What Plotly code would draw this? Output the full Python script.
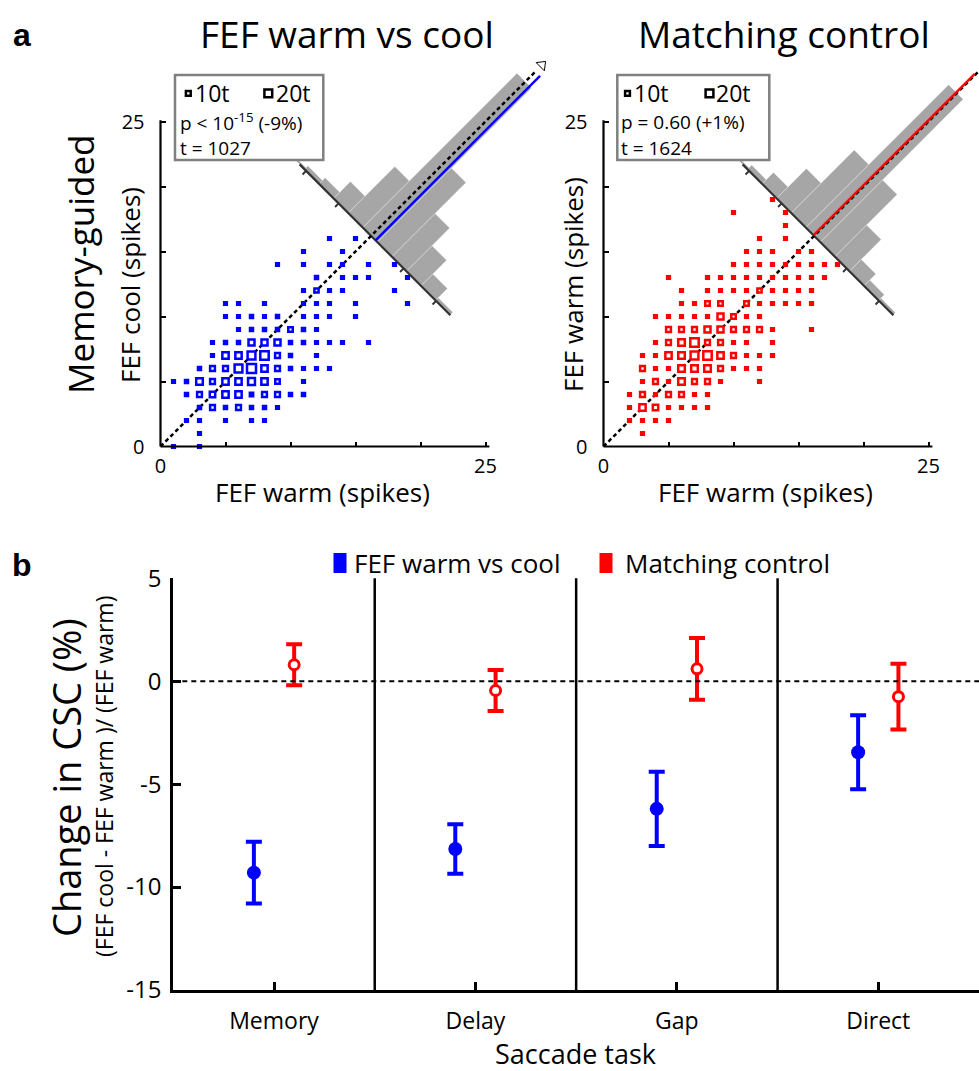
import math
import plotly.graph_objects as go

W, H = 979, 1071
FONT = "Open Sans"
BLUE = "#0000ff"
RED = "#ff0000"
HIST_GREY = "#a6a6a6"

# ---------------- panel a, left: FEF warm (x) vs FEF cool (y) spike counts ----------------
cool_warm = [
    13, 15,
    11, 14,
    9, 11, 13, 14, 16, 18,
    12, 14, 15, 16, 19,
    11, 12, 13, 14, 18,
    5, 6, 8, 11, 12, 13, 15, 19,
    5, 6, 7, 8, 9, 11, 12, 13, 15,
    6, 7, 8, 9, 10, 11, 12,
    4, 5, 6, 7, 8, 9, 10, 11, 12, 13, 14, 16,
    4, 5, 6, 7, 8, 9, 10, 12,
    3, 4, 5, 6, 7, 8, 9, 10, 11, 12, 13,
    1, 2, 3, 4, 5, 6, 7, 8, 9, 11,
    2, 3, 4, 5, 6, 7, 8, 9, 10, 11,
    3, 4, 5, 6, 7, 8, 9,
    2, 3, 5, 7, 8,
    3,
    1, 3,
]
cool_cool = [
    16, 16,
    15, 15,
    14, 14, 14, 14, 14, 14,
    13, 13, 13, 13, 13,
    12, 12, 12, 12, 12,
    11, 11, 11, 11, 11, 11, 11, 11,
    10, 10, 10, 10, 10, 10, 10, 10, 10,
    9, 9, 9, 9, 9, 9, 9,
    8, 8, 8, 8, 8, 8, 8, 8, 8, 8, 8, 8,
    7, 7, 7, 7, 7, 7, 7, 7,
    6, 6, 6, 6, 6, 6, 6, 6, 6, 6, 6,
    5, 5, 5, 5, 5, 5, 5, 5, 5, 5,
    4, 4, 4, 4, 4, 4, 4, 4, 4, 4,
    3, 3, 3, 3, 3, 3, 3,
    2, 2, 2, 2, 2,
    1,
    0, 0,
]
cool_trials = [
    3, 3,
    3, 3,
    3, 3, 3, 3, 3, 3,
    4, 3, 3, 3, 3,
    3, 8, 3, 3, 3,
    3, 3, 3, 3, 3, 3, 3, 3,
    3, 3, 4, 3, 4, 3, 3, 3, 3,
    3, 4, 4, 4, 9, 4, 3,
    3, 4, 4, 14, 14, 14, 4, 4, 3, 3, 3, 3,
    3, 15, 15, 20, 22, 10, 4, 3,
    4, 10, 10, 20, 24, 15, 10, 4, 3, 3, 3,
    3, 4, 16, 10, 15, 15, 17, 15, 9, 3,
    4, 10, 12, 15, 15, 5, 10, 10, 4, 4,
    4, 10, 4, 10, 4, 4, 3,
    3, 3, 3, 3, 3,
    3,
    3, 3,
]

# ---------------- panel a, right: FEF warm vs FEF warm (matching control) ----------------
ctrl_warm_a = [
    13,
    10, 14,
    14,
    12, 14,
    11, 12, 13, 15, 16,
    10, 11, 12, 13, 14, 15, 16, 17, 18,
    5, 8, 9, 10, 11, 12, 13, 14, 15, 16, 17,
    6, 8, 9, 10, 11, 12, 13, 14, 15, 16,
    6, 7, 8, 9, 11, 12, 13, 14, 15, 16,
    4, 5, 6, 7, 8, 9, 10, 11, 12,
    5, 6, 7, 8, 9, 10, 11, 12, 13, 16,
    4, 5, 6, 7, 8, 9, 10, 11, 13,
    3, 4, 5, 6, 7, 8, 9, 10, 11, 12, 13,
    3, 4, 5, 6, 7, 8, 9, 10, 11, 12,
    3, 4, 5, 6, 7, 8, 9, 12,
    2, 3, 4, 5, 6, 7, 8,
    2, 3, 4, 5, 6, 7, 8,
    2, 3, 4, 5,
    3,
]
ctrl_warm_b = [
    19,
    18, 18,
    17,
    16, 16,
    15, 15, 15, 15, 15,
    14, 14, 14, 14, 14, 14, 14, 14, 14,
    13, 13, 13, 13, 13, 13, 13, 13, 13, 13, 13,
    12, 12, 12, 12, 12, 12, 12, 12, 12, 12,
    11, 11, 11, 11, 11, 11, 11, 11, 11, 11,
    10, 10, 10, 10, 10, 10, 10, 10, 10,
    9, 9, 9, 9, 9, 9, 9, 9, 9, 9,
    8, 8, 8, 8, 8, 8, 8, 8, 8,
    7, 7, 7, 7, 7, 7, 7, 7, 7, 7, 7,
    6, 6, 6, 6, 6, 6, 6, 6, 6, 6,
    5, 5, 5, 5, 5, 5, 5, 5,
    4, 4, 4, 4, 4, 4, 4,
    3, 3, 3, 3, 3, 3, 3,
    2, 2, 2, 2,
    1,
]
ctrl_trials = [
    3,
    3, 3,
    3,
    3, 3,
    3, 3, 3, 3, 3,
    3, 3, 3, 3, 3, 3, 3, 3, 3,
    3, 3, 3, 3, 3, 3, 3, 3, 3, 3, 3,
    3, 3, 3, 3, 3, 8, 3, 3, 3, 3,
    3, 3, 9, 9, 9, 3, 3, 3, 3, 3,
    3, 3, 3, 3, 3, 14, 9, 3, 3,
    10, 10, 10, 14, 14, 10, 10, 10, 3, 3,
    3, 10, 16, 22, 10, 10, 3, 3, 3,
    3, 3, 15, 16, 20, 22, 15, 10, 3, 3, 3,
    10, 3, 3, 16, 16, 16, 10, 3, 3, 3,
    3, 10, 3, 16, 10, 10, 3, 3,
    3, 10, 3, 10, 10, 3, 3,
    3, 15, 12, 3, 3, 3, 3,
    3, 3, 3, 3,
    3,
]

# difference histograms along the anti-diagonal (second minus first count, spikes)
hist_edges = [12.49, 10.25, 8.01, 5.77, 3.52, 1.28, -0.96, -3.20, -5.44, -7.68, -9.92, -12.16]
cool_hist_pct = [0.4, 0.9, 1.6, 4.4, 12.2, 40.4, 19.4, 11.3, 6.7, 3.1, 0.7]
ctrl_hist_pct = [0.4, 1.1, 3.0, 7.8, 16.5, 37.4, 16.3, 8.3, 3.1, 1.5, 0.6]
hist_ticks = [-10, -5, 5, 10]
cool_mean_diff = -0.68
ctrl_mean_diff = 0.1

# ---------------- panel b: change in CSC per saccade task ----------------
tasks = ["Memory", "Delay", "Gap", "Direct"]
cool_change = [-9.3, -8.15, -6.2, -3.45]
cool_sem = [1.5, 1.2, 1.8, 1.8]
ctrl_change = [0.8, -0.45, 0.6, -0.75]
ctrl_sem = [1.0, 1.0, 1.5, 1.6]

# ---------------- geometry ----------------
PX = 13.0                       # pixels per spike in panel a
A_YMAX = 29.9
L_X0, L_Y0 = 160.5, 446.5       # pixel of the origin, left scatter
R_X0, R_Y0 = 603.5, 446.5       # pixel of the origin, right scatter
L_XMAX = 29.9
R_XMAX = (W - R_X0) / PX

HIST_C = 16.2                   # anti-diagonal passes through (HIST_C, HIST_C)
HIST_AXIS = (11.0, -12.2)       # extent of the histogram axis, in spikes of difference
PCT_TO_DATA = 5.4 / PX          # perpendicular length per % of trials
TICK_LEN = 5.0 / PX
DIAG_END = 28.9


def along(d, h):
    """Point on the histogram frame: d = difference (spikes), h = height off the axis."""
    s = h / math.sqrt(2)
    return HIST_C - d / 2 + s, HIST_C + d / 2 + s


def px_x(p):
    return p / W


def px_y(p):
    return 1 - p / H


def trial_size(n):
    return 1.8 + 0.3 * n


fig = go.Figure()


def add_scatter_panel(xa, ya, xs, ys, ns, color, pct, mean_diff, mean_len):
    # histogram bars
    bx, by = [], []
    for i, p in enumerate(pct):
        e0, e1 = hist_edges[i], hist_edges[i + 1]
        h = p * PCT_TO_DATA
        for d, hh in ((e0, 0), (e1, 0), (e1, h), (e0, h), (e0, 0)):
            x, y = along(d, hh)
            bx.append(x)
            by.append(y)
        bx.append(None)
        by.append(None)
    fig.add_trace(go.Scatter(x=bx, y=by, xaxis=xa, yaxis=ya, mode="lines", fill="toself",
                             fillcolor=HIST_GREY, line=dict(color="rgba(255,255,255,0.6)", width=0.5),
                             hoverinfo="skip"))
    # histogram axis and ticks
    ax0 = along(HIST_AXIS[0], 0)
    ax1 = along(HIST_AXIS[1], 0)
    fig.add_trace(go.Scatter(x=[ax0[0], ax1[0]], y=[ax0[1], ax1[1]], xaxis=xa, yaxis=ya,
                             mode="lines", line=dict(color="#333333", width=2.2), hoverinfo="skip"))
    tx, ty = [], []
    for t in hist_ticks:
        a = along(t, 0)
        b = along(t, -TICK_LEN)
        tx += [a[0], b[0], None]
        ty += [a[1], b[1], None]
    fig.add_trace(go.Scatter(x=tx, y=ty, xaxis=xa, yaxis=ya, mode="lines",
                             line=dict(color="#333333", width=2), hoverinfo="skip"))
    # unity line, then the mean-difference line on top
    fig.add_trace(go.Scatter(x=[0, DIAG_END], y=[0, DIAG_END], xaxis=xa, yaxis=ya, mode="lines",
                             line=dict(color="black", width=2.5, dash="4px,3px"), hoverinfo="skip"))
    m0 = along(mean_diff, 0)
    m1 = along(mean_diff, mean_len)
    fig.add_trace(go.Scatter(x=[m0[0], m1[0]], y=[m0[1], m1[1]], xaxis=xa, yaxis=ya, mode="lines",
                             line=dict(color=color, width=2.4), hoverinfo="skip"))
    fig.add_trace(go.Scatter(x=[DIAG_END + 0.45], y=[DIAG_END + 0.45], xaxis=xa, yaxis=ya,
                             mode="markers", cliponaxis=False,
                             marker=dict(symbol="triangle-right", angle=-45, size=10, color="white",
                                         opacity=1, line=dict(color="black", width=1)),
                             hoverinfo="skip"))
    # trial-count scatter (marker size grows with the number of trials)
    fig.add_trace(go.Scatter(
        x=xs, y=ys, xaxis=xa, yaxis=ya, mode="markers", cliponaxis=False,
        marker=dict(symbol="square", size=[trial_size(n) for n in ns], opacity=1,
                    color=[color if n < 8 else "white" for n in ns],
                    line=dict(color=color, width=2.5)),
        hoverinfo="skip"))


add_scatter_panel("x", "y", cool_warm, cool_cool, cool_trials, BLUE, cool_hist_pct,
                  cool_mean_diff, 17.9)
add_scatter_panel("x2", "y2", ctrl_warm_a, ctrl_warm_b, ctrl_trials, RED, ctrl_hist_pct,
                  ctrl_mean_diff, 17.55)

# ---------------- panel b traces ----------------
OFFSET = 0.1
fig.add_trace(go.Scatter(
    x=[i + 1 - OFFSET for i in range(len(tasks))], y=cool_change, xaxis="x3", yaxis="y3",
    mode="markers", cliponaxis=False,
    marker=dict(symbol="circle", size=14, color=BLUE, opacity=1),
    error_y=dict(type="data", array=cool_sem, color=BLUE, thickness=4, width=8),
    hoverinfo="skip"))
fig.add_trace(go.Scatter(
    x=[i + 1 + OFFSET for i in range(len(tasks))], y=ctrl_change, xaxis="x3", yaxis="y3",
    mode="markers", cliponaxis=False,
    marker=dict(symbol="circle", size=10, color="white", opacity=1, line=dict(color=RED, width=3)),
    error_y=dict(type="data", array=ctrl_sem, color=RED, thickness=4, width=8),
    hoverinfo="skip"))

# ---------------- axes ----------------
common_a = dict(showgrid=False, zeroline=False, showline=False, ticks="inside", ticklen=5,
                tickwidth=2, tickcolor="black", tickvals=[0, 25], ticktext=["0", "25"],
                automargin=False,
                minor=dict(ticks="inside", dtick=5, tick0=0, ticklen=5, tickwidth=2,
                           tickcolor="black", showgrid=False),
                tickfont=dict(size=20, color="black", family=FONT))

shapes = []
annotations = []


def axis_lines(x0px, y0px):
    xe = x0px + 25.3 * PX
    ye = y0px - 25.1 * PX
    for (xa0, ya0, xa1, ya1) in ((x0px, y0px, xe, y0px), (x0px, y0px, x0px, ye)):
        shapes.append(dict(type="line", xref="paper", yref="paper", layer="above",
                           x0=px_x(xa0), y0=px_y(ya0), x1=px_x(xa1), y1=px_y(ya1),
                           line=dict(color="black", width=2.2)))


axis_lines(L_X0, L_Y0)
axis_lines(R_X0, R_Y0)

fig.update_layout(
    xaxis=dict(domain=[px_x(L_X0), px_x(L_X0 + L_XMAX * PX)], range=[0, L_XMAX], anchor="y",
               ticklabelstandoff=5, **common_a),
    yaxis=dict(domain=[px_y(L_Y0), px_y(L_Y0 - A_YMAX * PX)], range=[0, A_YMAX], anchor="x",
               ticklabelstandoff=15, **common_a),
    xaxis2=dict(domain=[px_x(R_X0), 1.0], range=[0, R_XMAX], anchor="y2",
                ticklabelstandoff=5, **common_a),
    yaxis2=dict(domain=[px_y(R_Y0), px_y(R_Y0 - A_YMAX * PX)], range=[0, A_YMAX], anchor="x2",
                ticklabelstandoff=15, **common_a),
    xaxis3=dict(domain=[px_x(173.3), 1.0], range=[0.5, 4.5], anchor="y3", automargin=False,
                showgrid=False, zeroline=False, showline=True, linecolor="black", linewidth=3,
                ticks="inside", ticklen=8, tickwidth=2.5, tickcolor="black",
                tickvals=[1, 2, 3, 4], ticktext=tasks, ticklabelstandoff=8,
                tickfont=dict(size=23, color="black", family=FONT)),
    yaxis3=dict(domain=[px_y(990), px_y(578.3)], range=[-15, 5], anchor="x3", automargin=False,
                showgrid=False, zeroline=False, showline=True, linecolor="black", linewidth=3,
                ticks="inside", ticklen=8, tickwidth=2.5, tickcolor="black",
                tickvals=[-15, -10, -5, 0, 5], ticktext=["-15", "-10", "-5", "0", "5"],
                ticklabelstandoff=4,
                tickfont=dict(size=24, color="black", family=FONT)),
)

# panel b reference lines
shapes.append(dict(type="line", xref="x3 domain", yref="y3", x0=0, x1=1, y0=0, y1=0,
                   line=dict(color="black", width=2, dash="5px,4px")))
for sep in (1.5, 2.5, 3.5):
    shapes.append(dict(type="line", xref="x3", yref="y3 domain", x0=sep, x1=sep, y0=0, y1=1,
                       line=dict(color="black", width=2.5)))


# panel a legend boxes
def legend_box(x0, x1, ptext, ttext, g10, g20, t10, t20, tx):
    shapes.append(dict(type="rect", xref="paper", yref="paper", layer="above",
                       x0=px_x(x0), x1=px_x(x1), y0=px_y(160), y1=px_y(75),
                       fillcolor="white", line=dict(color="#808080", width=2.5)))
    for cx, n in ((g10, 10), (g20, 20)):
        s = trial_size(n) / 2
        shapes.append(dict(type="rect", xref="paper", yref="paper", layer="above",
                           x0=px_x(cx - s), x1=px_x(cx + s), y0=px_y(93.3 + s), y1=px_y(93.3 - s),
                           fillcolor="white", line=dict(color="black", width=2.5)))
    for x, txt, size, y in ((t10, "10t", 23, 93.3), (t20, "20t", 23, 93.3),
                            (tx, ptext, 19, 122), (tx, ttext, 19, 148)):
        annotations.append(dict(xref="paper", yref="paper", x=px_x(x), y=px_y(y), text=txt,
                                showarrow=False, xanchor="left", yanchor="middle",
                                font=dict(size=size, family=FONT, color="black")))


legend_box(175, 323.3, "p < 10<sup>-15</sup> (-9%)", "t = 1027", 188.3, 268.3, 193, 274, 178)
legend_box(617.3, 769.3, "p = 0.60 (+1%)", "t = 1624", 627.5, 709.5, 632, 714, 619)

# panel b legend
for cx, color, label, tx in ((340, BLUE, "FEF warm vs cool", 352), (606, RED, "Matching control", 623)):
    shapes.append(dict(type="rect", xref="paper", yref="paper", layer="above",
                       x0=px_x(cx - 6.5), x1=px_x(cx + 6.5), y0=px_y(573), y1=px_y(553),
                       fillcolor=color, line=dict(width=0)))
    annotations.append(dict(xref="paper", yref="paper", x=px_x(tx), y=px_y(563), text=label,
                            showarrow=False, xanchor="left", yanchor="middle",
                            font=dict(size=26, family=FONT, color="black")))


def text(x, y, s, size, angle=0, bold=False, anchor="center", family=FONT):
    annotations.append(dict(xref="paper", yref="paper", x=px_x(x), y=px_y(y),
                            text=f"<b>{s}</b>" if bold else s, showarrow=False,
                            textangle=angle, xanchor=anchor, yanchor="middle",
                            font=dict(size=size, family=family, color="black")))


text(22, 35, "a", 32, bold=True, family="Liberation Sans")
text(22, 565, "b", 32, bold=True, family="Liberation Sans")
text(347, 33, "FEF warm vs cool", 37)
text(784, 33, "Matching control", 37)
text(80, 265, "Memory-guided", 35, angle=-90)
text(130, 285, "FEF cool (spikes)", 26, angle=-90)
text(573, 285, "FEF warm (spikes)", 26, angle=-90)
text(322, 492, "FEF warm (spikes)", 26)
text(765, 492, "FEF warm (spikes)", 26)
text(66, 778, "Change in CSC (%)", 38, angle=-90)
text(104, 777, "(FEF cool - FEF warm )/ (FEF warm)", 23, angle=-90)
text(575, 1053, "Saccade task", 27)

fig.update_layout(
    width=W, height=H, margin=dict(l=0, r=0, t=0, b=0, autoexpand=False),
    paper_bgcolor="white", plot_bgcolor="white", showlegend=False,
    font=dict(family=FONT, color="black"),
    shapes=shapes, annotations=annotations,
)

fig.write_html("out.html")
